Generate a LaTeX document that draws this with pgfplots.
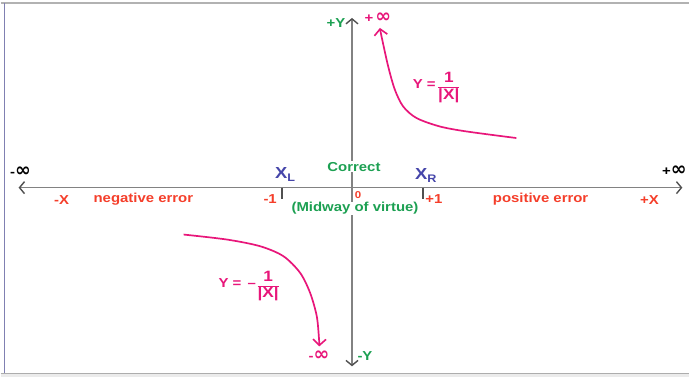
\documentclass[border=0pt]{standalone}
\usepackage{pgfplots}
\pgfplotsset{compat=1.18}
\usetikzlibrary{arrows.meta}
\usepackage{fontspec}
\setmainfont[FakeStretch=1.15]{Liberation Sans}
\newfontfamily\djv{DejaVu Sans}

\definecolor{pinkc}{RGB}{232,22,122}
\definecolor{redc}{RGB}{245,62,42}
\definecolor{greenc}{RGB}{28,160,82}
\definecolor{bluec}{RGB}{70,70,170}
\definecolor{axgray}{RGB}{130,130,130}
\definecolor{headgray}{RGB}{80,80,80}

\newcommand{\infy}{{\djv\bfseries\fontsize{19}{19}\selectfont ∞}}
\newcommand{\frc}[2]{{\fontsize{15}{15}\selectfont\setlength\arrayrulewidth{1.3pt}\renewcommand\arraystretch{0.95}%
  \begin{tabular}{@{}c@{}}#1\\\hline #2\end{tabular}}}
\tikzset{lbl/.style={font=\fontsize{13}{13}\selectfont\bfseries, inner sep=1pt}}

\begin{document}
\begin{tikzpicture}
\begin{axis}[
    scale only axis,
    width=690pt, height=378pt,
    xmin=-352, xmax=338,
    ymin=-190, ymax=188,
    hide axis,
    clip=false,
]
% background and frame
\fill[white] (rel axis cs:0,0) rectangle (rel axis cs:1,1);
\fill[black!8] (axis cs:-352,-190) rectangle (axis cs:338,-186);
\draw[line width=1.3pt, black!30] (axis cs:-352,185) -- (axis cs:338,185);
\draw[line width=1.3pt, black!32] (axis cs:-352,-186) -- (axis cs:338,-186);
\draw[line width=1.2pt, black!60!blue!50] (axis cs:-348,185) -- (axis cs:-348,-186);

% axes
\draw[line width=1.5pt, axgray, {Straight Barb[length=5pt,width=12pt,line width=1.4pt,color=headgray]}-{Straight Barb[length=5pt,width=12pt,line width=1.4pt,color=headgray]}]
    (axis cs:-334,0) -- (axis cs:331,0);
\draw[line width=1.5pt, axgray, {Straight Barb[length=5pt,width=12pt,line width=1.4pt,color=headgray]}-{Straight Barb[length=5pt,width=12pt,line width=1.4pt,color=headgray]}]
    (axis cs:0,170) -- (axis cs:0,-179);
\draw[line width=1.5pt, headgray] (axis cs:-70,0) -- (axis cs:-70,-11);
\draw[line width=1.5pt, headgray] (axis cs:71,0) -- (axis cs:71,-11);

% curves Y = 1/|X| and Y = -1/|X|
\addplot[pinkc, line width=1.7pt, smooth, -{Straight Barb[length=6pt,width=13pt,line width=1.6pt]}] coordinates {
    (164.7,49.7) (114.7,56.3) (88,61.3) (64.7,69.7) (51.3,81.3)
    (43,98) (36.3,121.3) (29.5,152) (28,160)
};
\addplot[pinkc, line width=1.7pt, smooth, -{Straight Barb[length=6pt,width=13pt,line width=1.6pt]}] coordinates {
    (-168.7,-47) (-125.3,-52) (-92,-58.7) (-68.7,-68.7) (-52,-85.3)
    (-42,-105.3) (-35.3,-128.7) (-33,-152) (-32.7,-159)
};

% texts on the horizontal axis
\node[lbl] at (axis cs:-332,16) {-\infy};
\node[lbl] at (axis cs:323,17) {+\infy};
\node[lbl, redc] at (axis cs:-291,-12) {-X};
\node[lbl, redc] at (axis cs:-209,-12) {negative error};
\node[lbl, redc] at (axis cs:-82,-11) {-1};
\node[lbl, redc, font=\fontsize{10}{10}\selectfont\bfseries, inner sep=0pt] at (axis cs:6,-7) {0};
\node[lbl, redc] at (axis cs:82,-11) {+1};
\node[lbl, redc] at (axis cs:189,-12) {positive error};
\node[lbl, redc] at (axis cs:298,-12) {+X};
\node[lbl, bluec, font=\fontsize{16}{16}\selectfont\bfseries] at (axis cs:-67,13) {X\raisebox{-0.35ex}{\fontsize{11}{11}\selectfont L}};
\node[lbl, bluec, font=\fontsize{16}{16}\selectfont\bfseries] at (axis cs:74,12) {X\raisebox{-0.35ex}{\fontsize{11}{11}\selectfont R}};
\node[lbl, greenc, fill=white] at (axis cs:2,21) {Correct};
\node[lbl, greenc, fill=white, inner sep=0.5pt] at (axis cs:3,-21) {(Midway of virtue)};

% texts on the vertical axis
\node[lbl, greenc] at (axis cs:-16,165) {+Y};
\node[lbl, greenc] at (axis cs:13,-169) {-Y};
\node[lbl, pinkc] at (axis cs:26,170) {+\,\infy};
\node[lbl, pinkc] at (axis cs:-33,-168) {-\infy};

% curve labels
\node[lbl, pinkc, anchor=east] at (axis cs:85,104) {Y =};
\node[lbl, pinkc] at (axis cs:97,100) {\frc{1}{|X|}};
\node[lbl, pinkc, anchor=east] at (axis cs:-95,-96) {Y = \,–};
\node[lbl, pinkc] at (axis cs:-84,-99) {\frc{1}{|X|}};
\end{axis}
\end{tikzpicture}
\end{document}
